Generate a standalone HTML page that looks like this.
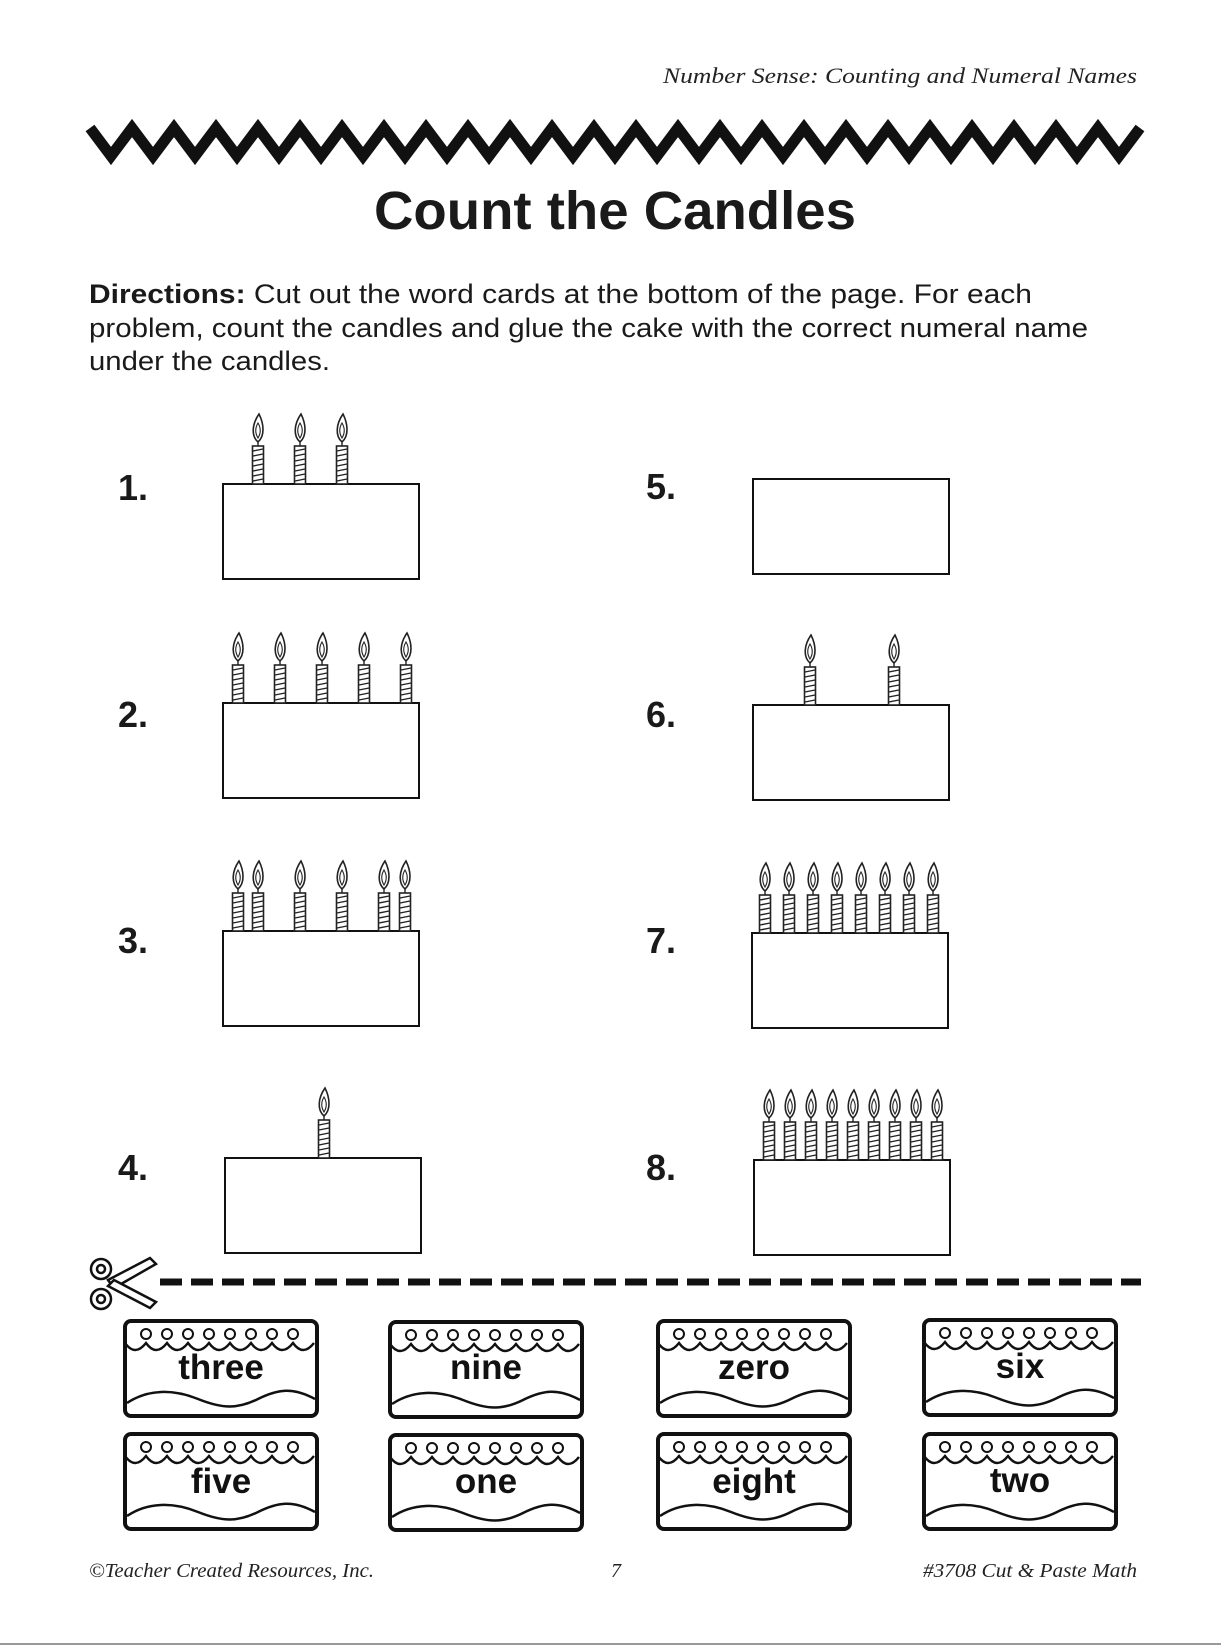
<!DOCTYPE html>
<html><head><meta charset="utf-8"><style>
html,body{margin:0;padding:0;background:#fff}
svg{display:block}
</style></head><body>
<svg width="1221" height="1648" viewBox="0 0 1221 1648" xmlns="http://www.w3.org/2000/svg">
<defs>
<symbol id="c" overflow="visible">
  <rect x="-5.5" y="-38" width="11" height="38" fill="#fff" stroke="#222" stroke-width="1.6"/>
  <path d="M-5,-33 L5,-35 M-5,-28 L5,-30 M-5,-23 L5,-25 M-5,-18 L5,-20 M-5,-13 L5,-15 M-5,-8 L5,-10 M-5,-3 L5,-5" stroke="#222" stroke-width="1.4"/>
  <line x1="0" y1="-38" x2="0" y2="-43" stroke="#222" stroke-width="1.4"/>
  <path d="M0,-42 C-7,-48 -6,-60 1,-70 C6,-60 7,-48 0,-42Z" fill="#fff" stroke="#222" stroke-width="1.6"/>
  <path d="M0,-46 C-3,-51 -3,-56 0,-61 C3,-56 3,-51 0,-46Z" fill="none" stroke="#222" stroke-width="1.1"/>
</symbol>
<symbol id="card" overflow="visible">
  <rect x="2" y="2" width="192" height="95" rx="6" fill="#fff" stroke="#111" stroke-width="4"/>
  <path d="M2,24 q10,14 21,0 q10,14 21,0 q10,14 21,0 q10,14 21,0 q10,14 21,0 q10,14 21,0 q10,14 21,0 q10,14 21,0 q10,14 21,0" fill="none" stroke="#111" stroke-width="2.4"/>
  <g fill="none" stroke="#111" stroke-width="2">
    <circle cx="23" cy="15" r="5"/><circle cx="44" cy="15" r="5"/><circle cx="65" cy="15" r="5"/><circle cx="86" cy="15" r="5"/><circle cx="107" cy="15" r="5"/><circle cx="128" cy="15" r="5"/><circle cx="149" cy="15" r="5"/><circle cx="170" cy="15" r="5"/>
  </g>
  <path d="M4,84 C25,70 50,70 75,80 S115,90 135,80 S170,68 192,80" fill="none" stroke="#111" stroke-width="2.5"/>
</symbol>
</defs>

<text x="663" y="83" textLength="474" lengthAdjust="spacingAndGlyphs" font-family="Liberation Serif, serif" font-style="italic" font-size="22" fill="#222">Number Sense:  Counting and Numeral Names</text>

<polyline fill="none" stroke="#111" stroke-width="11" stroke-linejoin="miter" points="90,128 111,156 132,128 153,156 174,128 195,156 216,128 237,156 258,128 279,156 300,128 321,156 342,128 363,156 384,128 405,156 426,128 447,156 468,128 489,156 510,128 531,156 552,128 573,156 594,128 615,156 636,128 657,156 678,128 699,156 720,128 741,156 762,128 783,156 804,128 825,156 846,128 867,156 888,128 909,156 930,128 951,156 972,128 993,156 1014,128 1035,156 1056,128 1077,156 1098,128 1119,156 1140,128"/>

<text x="615" y="229" text-anchor="middle" font-family="Liberation Sans, sans-serif" font-weight="bold" font-size="54" fill="#1a1a1a" textLength="482" lengthAdjust="spacingAndGlyphs">Count the Candles</text>

<g font-family="Liberation Sans, sans-serif" font-size="27" fill="#1a1a1a">
<text x="89" y="303" textLength="943" lengthAdjust="spacingAndGlyphs"><tspan font-weight="bold">Directions:</tspan>  Cut out the word cards at the bottom of the page.  For each</text>
<text x="89" y="337" textLength="999" lengthAdjust="spacingAndGlyphs">problem, count the candles and glue the cake with the correct numeral name</text>
<text x="89" y="370" textLength="241" lengthAdjust="spacingAndGlyphs">under the candles.</text>
</g>

<g font-family="Liberation Sans, sans-serif" font-weight="bold" font-size="36" fill="#1a1a1a">
<text x="118" y="500">1.</text><text x="118" y="727">2.</text><text x="118" y="953">3.</text><text x="118" y="1180">4.</text>
<text x="646" y="499">5.</text><text x="646" y="727">6.</text><text x="646" y="953">7.</text><text x="646" y="1180">8.</text>
</g>

<g fill="#fff" stroke="#111" stroke-width="2">
<rect x="223" y="484" width="196" height="95"/>
<rect x="753" y="479" width="196" height="95"/>
<rect x="223" y="703" width="196" height="95"/>
<rect x="753" y="705" width="196" height="95"/>
<rect x="223" y="931" width="196" height="95"/>
<rect x="752" y="933" width="196" height="95"/>
<rect x="225" y="1158" width="196" height="95"/>
<rect x="754" y="1160" width="196" height="95"/>
</g>

<use href="#c" x="258" y="484"/><use href="#c" x="300" y="484"/><use href="#c" x="342" y="484"/>
<use href="#c" x="238" y="703"/><use href="#c" x="280" y="703"/><use href="#c" x="322" y="703"/><use href="#c" x="364" y="703"/><use href="#c" x="406" y="703"/>
<use href="#c" x="810" y="705"/><use href="#c" x="894" y="705"/>
<use href="#c" x="238" y="931"/><use href="#c" x="258" y="931"/><use href="#c" x="300" y="931"/><use href="#c" x="342" y="931"/><use href="#c" x="384" y="931"/><use href="#c" x="405" y="931"/>
<use href="#c" x="765" y="933"/><use href="#c" x="789" y="933"/><use href="#c" x="813" y="933"/><use href="#c" x="837" y="933"/><use href="#c" x="861" y="933"/><use href="#c" x="885" y="933"/><use href="#c" x="909" y="933"/><use href="#c" x="933" y="933"/>
<use href="#c" x="324" y="1158"/>
<use href="#c" x="769" y="1160"/><use href="#c" x="790" y="1160"/><use href="#c" x="811" y="1160"/><use href="#c" x="832" y="1160"/><use href="#c" x="853" y="1160"/><use href="#c" x="874" y="1160"/><use href="#c" x="895" y="1160"/><use href="#c" x="916" y="1160"/><use href="#c" x="937" y="1160"/>

<!-- scissors -->
<g fill="#fff" stroke="#111" stroke-width="2.5">
<path d="M108,1280 L150,1258 L156,1264 L114,1288Z"/>
<path d="M108,1286 L150,1308 L156,1302 L114,1280Z"/>
<ellipse cx="101" cy="1269" rx="10" ry="10"/><ellipse cx="101" cy="1299" rx="10" ry="10"/>
<circle cx="101" cy="1269" r="4"/><circle cx="101" cy="1299" r="4"/>
</g>
<line x1="160" y1="1282" x2="1141" y2="1282" stroke="#111" stroke-width="7" stroke-dasharray="22,9"/>

<use href="#card" x="123" y="1319"/><use href="#card" x="388" y="1320"/><use href="#card" x="656" y="1319"/><use href="#card" x="922" y="1318"/>
<use href="#card" x="123" y="1432"/><use href="#card" x="388" y="1433"/><use href="#card" x="656" y="1432"/><use href="#card" x="922" y="1432"/>

<g font-family="Liberation Sans, sans-serif" font-weight="bold" font-size="35" fill="#111" text-anchor="middle">
<text x="221" y="1379">three</text><text x="486" y="1379">nine</text><text x="754" y="1379">zero</text><text x="1020" y="1378">six</text>
<text x="221" y="1493">five</text><text x="486" y="1493">one</text><text x="754" y="1493">eight</text><text x="1020" y="1492">two</text>
</g>

<g font-family="Liberation Serif, serif" font-style="italic" font-size="20" fill="#222">
<text x="89" y="1577" textLength="285" lengthAdjust="spacingAndGlyphs">©Teacher Created Resources, Inc.</text>
<text x="611" y="1577">7</text>
<text x="923" y="1577" textLength="214" lengthAdjust="spacingAndGlyphs">#3708 Cut &amp; Paste Math</text>
</g>
<line x1="0" y1="1644" x2="1221" y2="1644" stroke="#999" stroke-width="2"/>
</svg>
</body></html>
